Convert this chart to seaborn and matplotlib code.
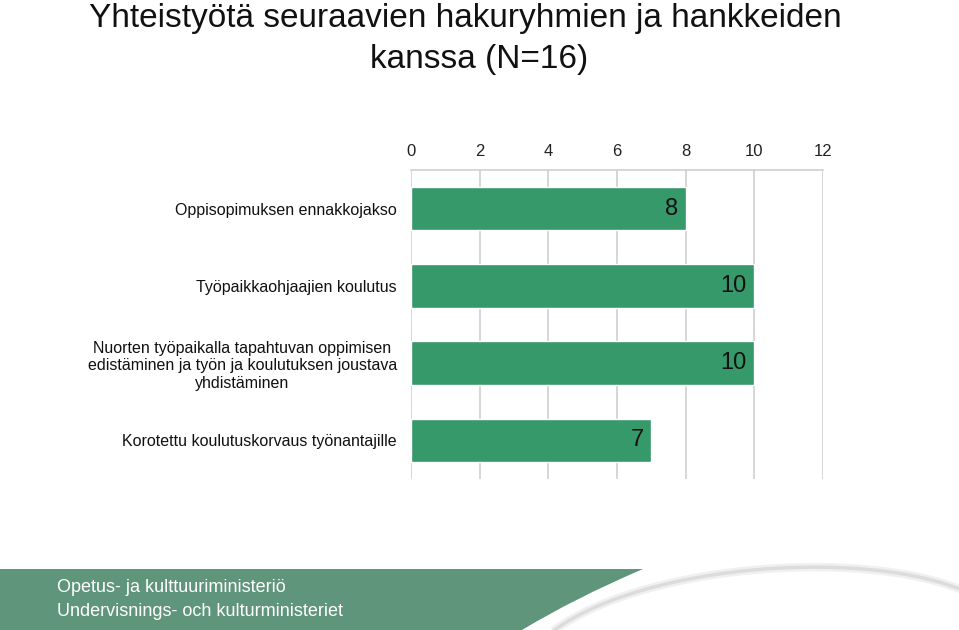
import matplotlib
matplotlib.use("Agg")
import matplotlib.pyplot as plt
import seaborn as sns
import pandas as pd
import numpy as np
from matplotlib.path import Path
from matplotlib.patches import PathPatch

categories = [
    "Oppisopimuksen ennakkojakso",
    "Työpaikkaohjaajien koulutus",
    "Nuorten työpaikalla tapahtuvan oppimisen\nedistäminen ja työn ja koulutuksen joustava\nyhdistäminen",
    "Korotettu koulutuskorvaus työnantajille",
]
values = [8, 10, 10, 7]
xticks = [0, 2, 4, 6, 8, 10, 12]
title_lines = ["Yhteistyötä seuraavien hakuryhmien ja hankkeiden", "kanssa (N=16)"]
footer_lines = ["Opetus- ja kulttuuriministeriö", "Undervisnings- och kulturministeriet"]

sns.set_theme(style="white")
plt.rcParams['font.family'] = ['Liberation Sans', 'DejaVu Sans']

W, H = 959, 630
fig = plt.figure(figsize=(W / 100, H / 100), dpi=100)
ax = fig.add_axes([411 / W, 1 - 479 / H, (823 - 411) / W, (479 - 170) / H])

df = pd.DataFrame({"cat": categories, "val": values})
sns.barplot(data=df, y="cat", x="val", orient="h", color="#36996a", saturation=1,
            width=0.56, ax=ax)

ax.set_xlim(0, 12)
ax.set_ylim(3.5, -0.5)
ax.set_xticks(xticks)
ax.xaxis.tick_top()
ax.tick_params(axis="x", length=0, pad=8, labelsize=12, labelcolor="#222222")
ax.tick_params(axis="y", length=0, pad=10, labelsize=11.5, labelcolor="#111111")
for lab in ax.get_yticklabels():
    lab.set_multialignment("center")
ax.set_xlabel("")
ax.set_ylabel("")
ax.grid(axis="x", color="#d0d0d0", lw=1.2)
ax.set_axisbelow(True)
for s in ["left", "right", "bottom"]:
    ax.spines[s].set_visible(False)
ax.spines["top"].set_color("#d0d0d0")
ax.spines["top"].set_linewidth(1.2)

for cont in ax.containers:
    texts = ax.bar_label(cont, labels=[str(v) for v in values], padding=-5.5, fontsize=17,
                         color="#111111")
    for t in texts:
        t.set_ha("right")

fx = lambda px: px / W
fy = lambda py: 1 - py / H

fig.text(fx(465), fy(27), title_lines[0], ha="center", va="baseline", fontsize=24,
         color="#111111")
fig.text(fx(479), fy(68), title_lines[1], ha="center", va="baseline", fontsize=24,
         color="#111111")

# footer band
verts = [(fx(0), fy(569)), (fx(643), fy(569)),
         (fx(575), fy(598)), (fx(522), fy(630)), (fx(0), fy(630))]
codes = [Path.MOVETO, Path.LINETO, Path.CURVE3, Path.CURVE3, Path.LINETO]
green = PathPatch(Path(verts + [verts[0]], codes + [Path.CLOSEPOLY]),
                  facecolor="#5f957a", edgecolor="none", transform=fig.transFigure)
fig.patches.append(green)
# swoosh shadow
t = np.linspace(0, 1, 80)
p0 = np.array([fx(552), fy(632)])
p1 = np.array([fx(640), fy(565)])
p2 = np.array([fx(860), fy(548)])
p3 = np.array([fx(962), fy(590)])
curve = ((1 - t) ** 3)[:, None] * p0 + (3 * (1 - t) ** 2 * t)[:, None] * p1 \
    + (3 * (1 - t) * t ** 2)[:, None] * p2 + (t ** 3)[:, None] * p3
fig.lines.append(plt.Line2D(curve[:, 0], curve[:, 1], transform=fig.transFigure,
                            color="#f0f0f0", lw=6, solid_capstyle="butt"))
fig.lines.append(plt.Line2D(curve[:, 0], curve[:, 1], transform=fig.transFigure,
                            color="#dcdcdc", lw=2.5, solid_capstyle="butt"))

for i, line in enumerate(footer_lines):
    fig.text(fx(57), fy(588 + 23 * i), line, ha="left", va="center", fontsize=13,
             color="white", family=["Liberation Sans Narrow", "Liberation Sans"])

fig.savefig("out.png", dpi=100, facecolor="white")
